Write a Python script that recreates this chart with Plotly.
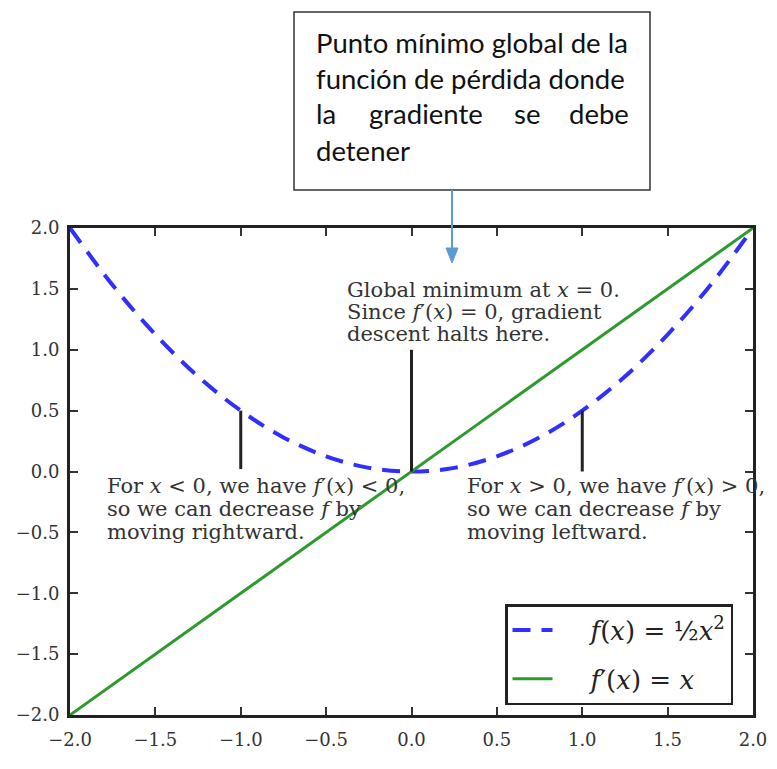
import plotly.graph_objects as go

# ---- data ----
x_curve = [-2.0, -1.75, -1.5, -1.25, -1.0, -0.75, -0.5, -0.25, 0.0,
           0.25, 0.5, 0.75, 1.0, 1.25, 1.5, 1.75, 2.0]
y_curve = [2.0, 1.53, 1.125, 0.78, 0.5, 0.28, 0.125, 0.03, 0.0,
           0.03, 0.125, 0.28, 0.5, 0.78, 1.125, 1.53, 2.0]
x_deriv = [-2.0, 2.0]
y_deriv = [-2.0, 2.0]

tick_vals = [-2.0, -1.5, -1.0, -0.5, 0.0, 0.5, 1.0, 1.5, 2.0]
tick_text = ["\u22122.0", "\u22121.5", "\u22121.0", "\u22120.5", "0.0", "0.5", "1.0", "1.5", "2.0"]

# annotation pointer lines (x, y_start, y_end)
pointer_x = [-1.0, 0.0, 1.0]
pointer_y0 = [0.5, 0.0, 0.5]
pointer_y1 = [0.02, 1.0, 0.0]

center_lines = ["Global minimum at <i>x</i> = 0.",
                "Since <i>f</i>\u2032(<i>x</i>) = 0, gradient",
                "descent halts here."]
left_lines = ["For <i>x</i> &lt; 0, we have <i>f</i>\u2032(<i>x</i>) &lt; 0,",
              "so we can decrease <i>f</i> by",
              "moving rightward."]
right_lines = ["For <i>x</i> &gt; 0, we have <i>f</i>\u2032(<i>x</i>) &gt; 0,",
               "so we can decrease <i>f</i> by",
               "moving leftward."]

box_lines = ["Punto mínimo global de la", "función de pérdida donde", None, "detener"]
box_line3_words = ["la", "gradiente", "se", "debe"]

SERIF = "DejaVu Serif"
OFF = 8  # page body margin
W, H = 777 - OFF, 769 - OFF
L, R, T, B = 70 - OFF, 24, 228 - OFF, 54
PW, PH = W - L - R, H - T - B

def px(xp):
    return (xp - OFF - L) / PW

def py(yp):
    return (H - B - (yp - OFF)) / PH

def dy(yp):  # pixel row -> data y
    return 2 - (yp - 228) * 4 / 487

fig = go.Figure()
fig.add_trace(go.Scatter(
    x=x_curve, y=y_curve, mode="lines", line_shape="spline",
    line=dict(color="#2f2fff", width=4, dash="18px,11px"),
    legendgroup="a",
    name="\u00a0\u00a0\u00a0\u00a0<i>f</i>(<i>x</i>) = ½<i>x</i><sup>2</sup>"))
fig.add_trace(go.Scatter(
    x=x_deriv, y=y_deriv, mode="lines",
    line=dict(color="#2e9a2e", width=3),
    legendgroup="b",
    name="\u00a0\u00a0\u00a0\u00a0<i>f</i>\u2032(<i>x</i>) = <i>x</i>"))

for xv, a, b in zip(pointer_x, pointer_y0, pointer_y1):
    fig.add_shape(type="line", xref="x", yref="y", x0=xv, x1=xv, y0=a, y1=b,
                  line=dict(color="#222222", width=3))

tf = dict(family=SERIF, size=21, color="#333333")
def add_lines(lines, x0, rows):
    for t, r in zip(lines, rows):
        fig.add_annotation(x=x0, y=dy(r), xref="x", yref="y", xanchor="left",
                           yanchor="middle", align="left", showarrow=False,
                           font=tf, text=t)

add_lines(center_lines, -0.39, [290, 312, 334])
add_lines(left_lines, -1.795, [486, 509, 532])
add_lines(right_lines, 0.313, [486, 509, 532])

# top callout box
fig.add_shape(type="rect", xref="paper", yref="paper",
              x0=px(294), x1=px(650), y0=py(190), y1=py(12),
              line=dict(color="#333333", width=1.5), fillcolor="white")
bf = dict(family="Lato", size=27.5, color="#111111")
line_y = [42, 78, 114, 150]
for i, t in enumerate(box_lines):
    if t is None:
        continue
    fig.add_annotation(x=px(314), y=py(line_y[i]), xref="paper", yref="paper",
                       xanchor="left", yanchor="middle", showarrow=False, font=bf, text=t)
word_x = [314, 367, 512, 631]
word_anchor = ["left", "left", "left", "right"]
for wx, wa, wd in zip(word_x, word_anchor, box_line3_words):
    fig.add_annotation(x=px(wx), y=py(line_y[2]), xref="paper", yref="paper",
                       xanchor=wa, yanchor="middle", showarrow=False, font=bf, text=wd)

# blue arrow from box to the minimum
fig.add_shape(type="line", xref="paper", yref="paper",
              x0=px(452), x1=px(452), y0=py(190), y1=py(250),
              line=dict(color="#5b9bd5", width=2))
fig.add_shape(type="path", xref="paper", yref="paper",
              path=f"M {px(446)} {py(248)} L {px(458)} {py(248)} L {px(452)} {py(263)} Z",
              line=dict(color="#5b9bd5", width=1), fillcolor="#5b9bd5")

# x-axis label, mostly cut by the bottom edge as in the reference
fig.add_annotation(x=0.0, y=py(762), xref="x", yref="paper", xanchor="center",
                   yanchor="top", showarrow=False, text="<i>x</i>",
                   font=dict(family=SERIF, size=20, color="#333333"))

axis_common = dict(range=[-2, 2], tickvals=tick_vals, ticktext=tick_text,
                   ticks="inside", ticklen=8, tickwidth=1.5, tickcolor="#333333",
                   showline=True, linecolor="#222222", linewidth=3, mirror="allticks",
                   showgrid=False, zeroline=False, automargin=False,
                   tickfont=dict(family=SERIF, size=18, color="#333333"))

fig.update_layout(
    width=W, height=H,
    margin=dict(l=L, r=R, t=T, b=B, autoexpand=False),
    plot_bgcolor="white", paper_bgcolor="white",
    xaxis=dict(**axis_common, ticklabelstandoff=6),
    yaxis=dict(**axis_common, ticklabelstandoff=4),
    showlegend=True,
    legend=dict(x=px(505), y=py(604), xanchor="left", yanchor="top",
                bordercolor="#222222", borderwidth=2.5, bgcolor="white",
                font=dict(family=SERIF, size=26, color="#222222"),
                tracegroupgap=12, itemwidth=40),
)

fig.write_html("out.html")
